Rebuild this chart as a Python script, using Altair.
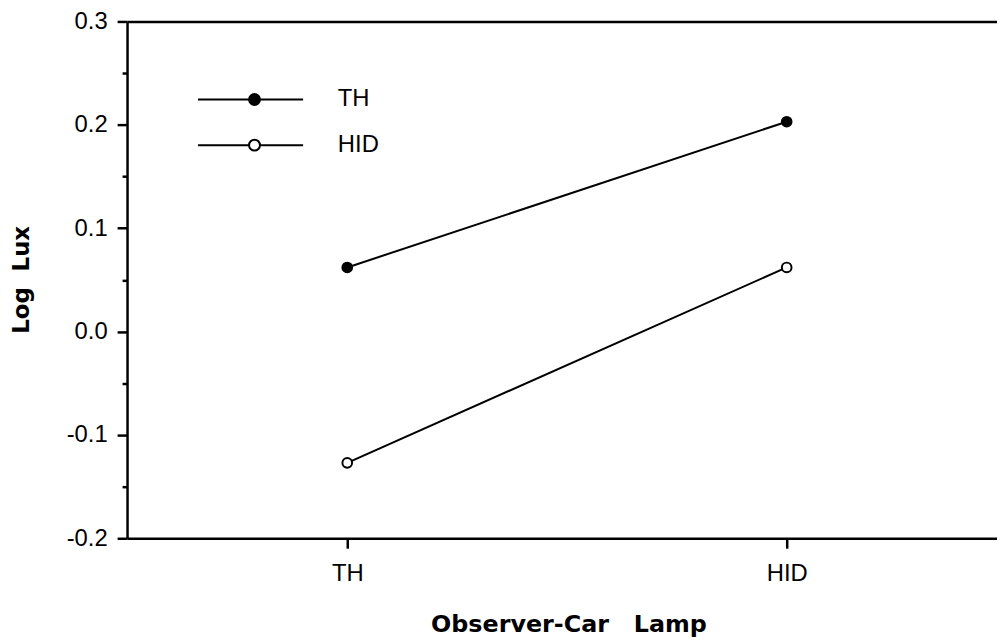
import json
import altair as alt
import pandas as pd

# categories on the x axis (observer-car lamp) and the two series
categories = ["TH", "HID"]
series_names = ["TH", "HID"]
th_values = [0.062, 0.203]
hid_values = [-0.127, 0.062]
y_ticks = [-0.2, -0.15, -0.1, -0.05, 0.0, 0.05, 0.1, 0.15, 0.2, 0.25, 0.3]

rows = []
for s, vals in zip(series_names, [th_values, hid_values]):
    for i, (c, v) in enumerate(zip(categories, vals)):
        rows.append({"lamp": c, "lamp_idx": i, "series": s, "value": v})
df = pd.DataFrame(rows)

# category slots: the plot area runs half a slot left of the first category
# and is cut off by the picture edge on the right
x_scale = alt.Scale(domain=[-0.5011, 1.4786], nice=False, zero=False)
label_expr = json.dumps(categories) + "[round(datum.value)]"

x_bottom = alt.X(
    "lamp_idx:Q",
    scale=x_scale,
    axis=alt.Axis(
        orient="bottom",
        values=list(range(len(categories))),
        labelExpr=label_expr,
        title="Observer-Car\u00a0\u00a0\u00a0Lamp",
        titleFont="DejaVu Sans",
        titleFontWeight="bold",
        titleFontSize=24,
        titleColor="black",
        titleBaseline="alphabetic",
        titleX=445,
        titleY=94,
        labelFont="Liberation Sans",
        labelFontSize=24,
        labelColor="black",
        labelAngle=0,
        labelBaseline="alphabetic",
        labelPadding=33,
        labelFlush=False,
        tickSize=10,
        tickWidth=2.5,
        tickColor="black",
        domainColor="black",
        domainWidth=2.5,
        grid=False,
    ),
)

x_top = alt.X(
    "lamp_idx:Q",
    scale=x_scale,
    axis=alt.Axis(
        orient="top",
        title=None,
        labels=False,
        ticks=False,
        domainColor="black",
        domainWidth=2.5,
        grid=False,
    ),
)

y_left = alt.Y(
    "value:Q",
    scale=alt.Scale(domain=[-0.2, 0.3], nice=False, zero=False),
    axis=alt.Axis(
        title="Log\u00a0\u00a0Lux",
        titleFont="DejaVu Sans",
        titleFontWeight="bold",
        titleFontSize=23,
        titleColor="black",
        titleAngle=270,
        titleBaseline="alphabetic",
        titleAlign="center",
        titleX=-99,
        titleY=260,
        values=y_ticks,
        labelExpr="round(datum.value*20) % 2 ? '' : (datum.value < 0 ? '-' : '') + format(abs(datum.value), '.1f')",
        labelFont="Liberation Sans",
        labelFontSize=24,
        labelColor="black",
        labelPadding=10,
        tickSize={"condition": {"test": "round(datum.value*20) % 2", "value": 5}, "value": 10},
        tickWidth=2.5,
        tickColor="black",
        domainColor="black",
        domainWidth=2.5,
        grid=False,
    ),
)

legend_symbol = (
    "M-4.385,0H-0.423M0.423,0H3.77"
    "M0.423,0A0.423,0.423,0,1,1,-0.423,0A0.423,0.423,0,1,1,0.423,0Z"
)

base = alt.Chart(df)

lines = base.mark_line(color="black", strokeWidth=2).encode(
    x=x_bottom, y=y_left, detail="series:N"
)

points = base.mark_point(
    shape="circle", filled=True, stroke="black", strokeWidth=2, size=95, opacity=1
).encode(
    x=x_top,
    y=y_left,
    fill=alt.Fill(
        "series:N",
        sort=series_names,
        scale=alt.Scale(domain=series_names, range=["black", "white"]),
        legend=alt.Legend(
            title=None,
            orient="none",
            legendX=114.5,
            legendY=64.7,
            direction="vertical",
            padding=0,
            symbolType=legend_symbol,
            symbolSize=676,
            symbolStrokeColor="black",
            symbolStrokeWidth=2,
            symbolOpacity=1,
            labelFont="Liberation Sans",
            labelFontSize=24,
            labelColor="black",
            labelOffset=70,
            rowPadding=20,
        ),
    ),
)

chart = (
    alt.layer(lines, points)
    .resolve_axis(x="independent")
    .properties(
        width=877,
        height=521,
        autosize=alt.AutoSizeParams(type="none"),
        padding={"left": 120, "top": 11, "right": 0, "bottom": 100},
        background="white",
    )
    .configure_view(strokeWidth=0, fill="white")
)

chart.save("out.html", embed_options={"renderer": "svg", "actions": False})
